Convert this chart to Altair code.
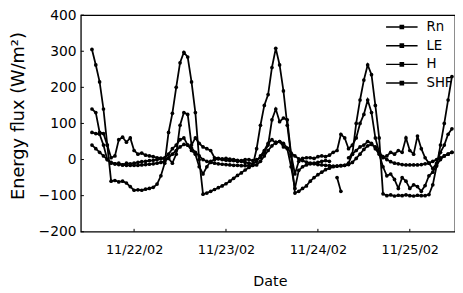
import altair as alt
import pandas as pd

# time axis: hours since 11/21/02 00:00 (hourly samples)
hours = list(range(13, 108))
series_names = ["Rn", "LE", "H", "SHF"]

rn = [305, 262, 215, 140, 40, -60, -58, -62, -60, -65,
      -75, -85, -84, -85, -82, -80, -77, -68, -45, -10,
      75, 128, 200, 268, 297, 284, 215, 130, 0, -96,
      -93, -88, -83, -78, -73, -67, -60, -52, -44, -37,
      -29, -22, -16, 30, 95, 150, 180, 255, 308, 262,
      190, 95, 10, -93, -88, -80, -73, -60, -50, -42,
      -35, -28, -24, -20, -18, -17, -16, -10, 15, 100,
      165, 220, 262, 235, 150, 60, -95, -100, -98, -101,
      -99, -100, -98, -100, -101, -99, -100, -100, -97, -70,
      -18, 40, 100, 165, 230]

le = [140, 130, 75, 72, 40, 5, 10, 55, 62, 48,
      60, 25, 15, 18, 12, 10, 8, 5, 4, 2,
      3, -10, 15, 95, 130, 125, 40, 60, 45, 35,
      30, 25, 5, 3, 2, 3, 1, 0, -2, -3,
      0, 0, -3, 0, 5, 20, 40, 110, 140, 105,
      115, 110, 15, -40, -5, 3, 5, 5, 3, 8,
      10, 8, 12, 20, 25, 70, 60, 30, 40, 60,
      100, 125, 165, 130, 60, 20, 5, 10, 20, 15,
      25, 20, 60, 25, 15, 65, 30, 5, -10, -25,
      -10, 20, 40, 70, 85]

h = [75, 72, 70, 40, 0, -10, -12, -10, -15, -10,
     -12, -10, -8, -6, -5, -3, -2, 0, 2, 5,
     15, 30, 40, 55, 60, 40, 25, 15, -20, -40,
     -20, -5, 0, 2, 0, -2, -3, -3, -5, -5,
     -8, -10, -12, -5, 10, 25, 45, 55, 45, 50,
     35, 30, -20, -80, -30, -20, -15, -12, -10, -8,
     -5, -3, -5, None, -50, -88, None, 5, 15, 25,
     35, 40, 50, 45, 30, 15, -20, -45, -40, -55,
     -80, -50, -60, -80, -70, -75, -88, -72, -45, -35,
     -15, 0, 10, 15, 20]

shf = [40, 30, 20, 10, 0, -8, -12, -14, -15, -16,
       -16, -16, -16, -15, -14, -13, -12, -10, -8, -5,
       5, 15, 25, 35, 42, 40, 32, 20, 10, 0,
       -5, -8, -10, -12, -13, -14, -15, -16, -16, -17,
       -17, -17, -16, -15, -5, 10, 25, 38, 48, 50,
       45, 32, 18, 10, 2, -3, -7, -10, -12, -14,
       -15, -16, -17, -18, -18, -17, -16, -14, -8, 3,
       15, 28, 38, 42, 35, 20, 8, 0, -6, -10,
       -12, -14, -15, -15, -15, -15, -14, -12, -10, -5,
       0, 5, 10, 15, 20]

x_ticks = [24, 48, 72, 96]
x_labels = ["11/22/02", "11/23/02", "11/24/02", "11/25/02"]
y_ticks = [-200, -100, 0, 100, 200, 300, 400]

for s in (rn, le, h, shf):
    assert len(s) == len(hours)

rows = []
for name, vals in zip(series_names, [rn, le, h, shf]):
    for t, v in zip(hours, vals):
        rows.append({"hour": t, "series": name, "value": v})
df = pd.DataFrame(rows)

label_map = "{" + ",".join(f"'{t}':'{l}'" for t, l in zip(x_ticks, x_labels)) + "}"

FONT = "DejaVu Sans"

x_scale = alt.Scale(domain=[10.1, 107.8], nice=False, zero=False)
y_scale = alt.Scale(domain=[-200, 400], nice=False, zero=False)

x_axis = alt.Axis(values=x_ticks, labelExpr=f"{label_map}[''+datum.value]",
                  title="Date", grid=False, domain=False, ticks=False,
                  labelPadding=12, labelFontSize=13, labelColor="black",
                  labelOverlap=False,
                  titleFontSize=14.5, titleFontWeight="normal", titleColor="black",
                  titleX=192, titleY=51, titleBaseline="middle", titleAlign="center")
y_axis = alt.Axis(values=y_ticks, title="Energy flux (W/m²)", grid=False,
                  domain=False, ticks=False, labelPadding=5, labelFontSize=14,
                  labelColor="black", labelOverlap=False,
                  titleFontSize=18, titleFontWeight="normal",
                  titleColor="black", titleAngle=-90, titleX=-63, titleY=102,
                  titleBaseline="middle", titleAlign="center")

legend = alt.Legend(orient="none", legendX=317, legendY=3, title=None,
                    symbolType="M-2,0L2,0M-0.2,-0.2L0.2,-0.2L0.2,0.2L-0.2,0.2Z",
                    symbolSize=256, symbolStrokeWidth=1.5,
                    symbolFillColor="black", symbolStrokeColor="black",
                    labelFontSize=13.5, labelColor="black", labelOffset=16,
                    rowPadding=3, padding=0)

lines = alt.Chart(df).mark_line(strokeWidth=1.8, invalid="break-paths-filter-domains").encode(
    x=alt.X("hour:Q", scale=x_scale, axis=x_axis),
    y=alt.Y("value:Q", scale=y_scale, axis=y_axis),
    color=alt.Color("series:N", scale=alt.Scale(domain=series_names, range=["black"] * 4),
                    legend=legend),
)

points = alt.Chart(df).mark_circle(color="black", size=14, opacity=1).encode(
    x=alt.X("hour:Q", axis=x_axis),
    y=alt.Y("value:Q", axis=y_axis),
)

xt = pd.DataFrame({"hour": x_ticks})
x_tick_marks = alt.Chart(xt).mark_rule(color="black", strokeWidth=1).encode(
    x=alt.X("hour:Q", axis=x_axis),
    y=alt.Y(datum=-200, axis=y_axis),
    y2=alt.Y2(datum=-192),
)
yt = pd.DataFrame({"value": y_ticks})
y_tick_marks = alt.Chart(yt).mark_rule(color="black", strokeWidth=1).encode(
    y=alt.Y("value:Q", axis=y_axis),
    x=alt.X(datum=10.1, axis=x_axis),
    x2=alt.X2(datum=10.9),
)

chart = alt.layer(lines, points, x_tick_marks, y_tick_marks).properties(
    width=380, height=220,
    autosize=alt.AutoSizeParams(type="none"),
    padding={"left": 74, "top": 5, "right": 0, "bottom": 62},
).configure(font=FONT).configure_view(stroke="black", strokeWidth=1.3)

chart.save("out.html", embed_options={"renderer": "svg", "actions": False})
